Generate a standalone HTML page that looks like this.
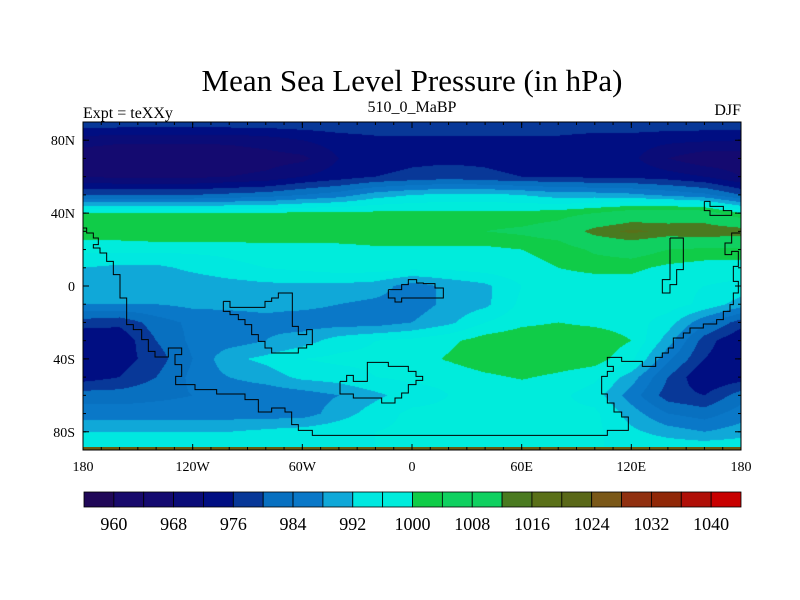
<!DOCTYPE html>
<html><head><meta charset="utf-8">
<style>
body{margin:0;background:#fff;width:800px;height:600px;overflow:hidden;position:relative;font-family:"Liberation Serif",serif;}
#map{position:absolute;left:83px;top:122px;}
svg{position:absolute;left:0;top:0;}
</style></head>
<body>
<canvas id="map" width="658" height="328"></canvas>
<svg id="ov" width="800" height="600">
<text x="412" y="91" font-size="31" text-anchor="middle">Mean Sea Level Pressure (in hPa)</text>
<text x="83" y="118" font-size="16">Expt = teXXy</text>
<text x="412" y="112" font-size="16" text-anchor="middle">510_0_MaBP</text>
<text x="741" y="115" font-size="16" text-anchor="end">DJF</text>
<g id="coast"></g>
<g id="axes"></g>
<g id="cbar"></g>
</svg>
<script>
const lons=[-180,-160,-140,-120,-100,-80,-60,-40,-20,0,20,40,60,80,100,120,140,160,180];
const lats=[90,80,70,60,50,40,30,20,10,0,-10,-20,-30,-40,-50,-60,-70,-80,-90];
const r90N=[979,979,979,979,979,979,979,979,979,979,979,979,979,979,979,979,979,979,979];
const r80N=[970,969,969,969,969,970,972,974,975,975,975,975,975,975,974,974,973,972.5,972];
const r70N=[965,964,964,964,965,966,967,972,974,975,975,975,974,974,974,973,968,965,965];
const r60N=[968,967,967,967,968,969,972,974,976,977,978,977,976,976,975,975,974,972,968];
const r50N=[980,980,980,980,981,982,984,986,990,992,993,993,992,990,990,989,987,985,980];
const r40N=[1000,1000,1000,1000,1000,1000,1001,1001,1001,1001,1001,1001,1001,1002,1004,1007,1008,1007,1000];
const r30N=[1003,1003,1004,1004,1004,1004,1004,1004,1004,1004,1004,1004,1005,1007,1014,1017,1015,1016,1015];
const r20N=[997,997,997,997,997,998,998,998,999,999,999,999,1000,1001,1005,1007,1004,1003,1003];
const r10N=[992,991,991,993,995,996,997,998,998,997,997,998,999,1000,1001,1001,999,998,998];
const r0=[990,989,989,989,990,991,991,991,990,986,989,991,996,998,998,998,997,996,995];
const r10S=[988,988,988,989,989,989,989,988,987,986,989,991,997,998,998,998,998,995,990];
const r20S=[978,977,982,985,986,987,986,986,986,988,991,996,999,1000,999,998,994,985,978];
const r30S=[972,973,980,985,986,988,990,994,996,997,999,1002,1003,1003,1003,1000,990,978,972];
const r40S=[972,974,978,984,991,993,996,997,997,998,1000.5,1003,1004,1003,1002,997,985,976,972];
const r50S=[974,976,980,985,988,990,993,994,996,997,997,999,1000.5,999,997,990,980,972,974];
const r60S=[982,982,983,984,985,985,986,988,991,994,996,997,997,997,994,986,978,976,982];
const r70S=[986,986,986,986,986,986,986,990,994,997,997,997,997,997,997,990,984,982,986];
const r80S=[992,992,992,992,992,993,994,995,996,997,997,997,997,997,997,993,990,988,990];
const r90S=[996,996,996,996,996,996,996,996,996,996,996,996,996,996,996,996,996,996,996];
const grid=[r90N,r80N,r70N,r60N,r50N,r40N,r30N,r20N,r10N,r0,r10S,r20S,r30S,r40S,r50S,r60S,r70S,r80S,r90S];
const levelLabels=[960,968,976,984,992,1000,1008,1016,1024,1032,1040];
const palette=["#200858","#180a6c","#140a70","#0a0c78","#000e82","#083898","#0870c0","#0a78c8","#10a8d8","#00e8e0","#00ecdc","#10cc48","#10d060","#10d060","#4a7a20","#5a7018","#5a6818","#7a5818","#903010","#902808","#b01008","#c80000"];
const lvlMin=960, lvlStep=4;
const X0=83,X1=741,Y0=122,Y1=450;
const xOf=lon=>X0+(lon+180)/360*(X1-X0);
const yOf=lat=>Y0+(90-lat)/180*(Y1-Y0);
function levelIndex(v){if(v<lvlMin)return 0;return Math.min(palette.length-1,Math.floor((v-lvlMin)/lvlStep)+1);}
function hex(c){return [parseInt(c.slice(1,3),16),parseInt(c.slice(3,5),16),parseInt(c.slice(5,7),16)];}
const cv=document.getElementById('map'),ctx=cv.getContext('2d');
const W=cv.width,H=cv.height,img=ctx.createImageData(W,H);
const rgb=palette.map(hex);
for(let py=0;py<H;py++){
 const lat=90-(py+0.5)/H*180;
 let fi=(90-lat)/10,i=Math.min(lats.length-2,Math.floor(fi)),ty=fi-i;
 for(let px=0;px<W;px++){
  const lon=-180+(px+0.5)/W*360;
  let fj=(lon+180)/20,j=Math.min(lons.length-2,Math.floor(fj)),tx=fj-j;
  const v=(grid[i][j]*(1-tx)+grid[i][j+1]*tx)*(1-ty)+(grid[i+1][j]*(1-tx)+grid[i+1][j+1]*tx)*ty;
  const c=rgb[levelIndex(v)],k=(py*W+px)*4;
  img.data[k]=c[0];img.data[k+1]=c[1];img.data[k+2]=c[2];img.data[k+3]=255;
 }
}
ctx.putImageData(img,0,0);
const NS='http://www.w3.org/2000/svg';
function mk(tag,attrs,parent){const e=document.createElementNS(NS,tag);for(const k in attrs)e.setAttribute(k,attrs[k]);parent.appendChild(e);return e;}
const P=(x,y)=>x>=10000?[410+(x-10000)/3,118+y/3]:[80+x/3,118+y/3];
const coastLines=[
[[10,330],[20,330],[20,345],[40,345],[40,360],[55,360],[55,380],[40,380],[40,390],[60,390],[60,405],[80,405],[80,430],[100,430],[100,470],[120,470],[120,540],[140,540],[140,620],[160,620],[160,635],[185,635],[185,665],[205,665],[205,700],[225,700],[225,717],[265,717],[265,690],[305,690],[305,710],[285,710],[285,740],[305,740],[305,775],[287,775],[287,800],[345,800],[345,815],[410,815],[410,828],[495,828],[495,845],[535,845],[535,882],[575,882],[575,870],[615,870],[615,882],[635,882],[635,920],[655,920],[655,937],[697,937],[697,952],[10592,952],[10592,937],[10655,937],[10655,897],[10635,897],[10635,882],[10612,882],[10612,855],[10592,855],[10592,828],[10575,828],[10575,775],[10592,775],[10592,760],[10610,760],[10610,745],[10592,745],[10592,718],[10635,718],[10635,730],[10697,730],[10697,745],[10737,745],[10737,718],[10757,718],[10757,705],[10775,705],[10775,690],[10790,690],[10790,660],[10820,660],[10820,645],[10840,645],[10840,630],[10880,630],[10880,618],[10920,618],[10920,605],[10940,605],[10940,580],[10960,580],[10960,560],[10970,560],[10970,525],[10985,525],[10985,490],[10970,490],[10970,445],[10985,445],[10985,400],[10965,400],[10965,410],[10945,410],[10945,375],[10965,375],[10965,345],[10990,345]],
[[10883,250],[10900,250],[10900,265],[10940,265],[10940,278],[10965,278],[10965,292],[10900,292],[10900,278],[10883,278],[10883,250]],
[[10780,360],[10820,360],[10820,455],[10800,455],[10800,500],[10780,500],[10780,525],[10757,525],[10757,485],[10780,485],[10780,360]],
[[430,550],[450,550],[450,568],[555,568],[555,550],[575,550],[575,540],[595,540],[595,525],[637,525],[637,625],[655,625],[655,650],[680,650],[680,635],[697,635],[697,680],[680,680],[680,690],[655,690],[655,705],[575,705],[575,690],[555,690],[555,670],[535,670],[535,650],[515,650],[515,620],[495,620],[495,605],[475,605],[475,590],[450,590],[450,580],[430,580],[430,550]],
[[925,515],[965,515],[965,500],[985,500],[985,485],[10020,485],[10020,495],[10040,495],[10040,497],[10075,497],[10075,510],[10100,510],[10100,540],[10075,540],[10020,540],[985,540],[965,540],[965,552],[945,552],[945,540],[925,540],[925,515]],
[[780,790],[800,790],[800,772],[820,772],[820,790],[862,790],[862,733],[925,733],[925,745],[985,745],[985,760],[1005,760],[10018,760],[10018,775],[10038,775],[10038,787],[10018,787],[10018,800],[1005,800],[985,800],[985,825],[965,825],[965,840],[945,840],[945,855],[905,855],[905,840],[820,840],[820,828],[780,828],[780,790]]
];
const cg=document.getElementById('coast');
coastLines.forEach(l=>{const pl=mk('polyline',{points:l.map(p=>P(p[0],p[1]).join(',')).join(' '),fill:'none',stroke:'#000','stroke-width':1},cg);

});
const bs=mk('rect',{x:X0,y:Y1-3,width:X1-X0,height:3,fill:'#6a5a10'},cg);


const ag=document.getElementById('axes');
const fr=mk('rect',{x:X0,y:Y0,width:X1-X0,height:Y1-Y0,fill:'none',stroke:'#000','stroke-width':1},ag);


const xTicks=[-180,-120,-60,0,60,120,180];
const xTickLabels=['180','120W','60W','0','60E','120E','180'];
const yTicks=[80,40,0,-40,-80];
const yTickLabels=['80N','40N','0','40S','80S'];
for(let lon=-170;lon<180;lon+=10){const x=xOf(lon);
 mk('line',{x1:x,y1:Y0,x2:x,y2:Y0+3,stroke:'#000'},ag);mk('line',{x1:x,y1:Y1,x2:x,y2:Y1-3,stroke:'#000'},ag);}
for(let lat=-80;lat<90;lat+=10){const y=yOf(lat);
 mk('line',{x1:X0,y1:y,x2:X0+3,y2:y,stroke:'#000'},ag);mk('line',{x1:X1,y1:y,x2:X1-3,y2:y,stroke:'#000'},ag);}
xTicks.forEach((t,i)=>{const x=xOf(t);
 mk('line',{x1:x,y1:Y0,x2:x,y2:Y0+6,stroke:'#000'},ag);mk('line',{x1:x,y1:Y1,x2:x,y2:Y1-6,stroke:'#000'},ag);
 const tx=mk('text',{x:x,y:471,'font-size':14,'text-anchor':'middle'},ag);tx.textContent=xTickLabels[i];
 
 });
yTicks.forEach((t,i)=>{const y=yOf(t);
 mk('line',{x1:X0,y1:y,x2:X0+6,y2:y,stroke:'#000'},ag);mk('line',{x1:X1,y1:y,x2:X1-6,y2:y,stroke:'#000'},ag);
 const tx=mk('text',{x:X0-8,y:y+5,'font-size':14,'text-anchor':'end'},ag);tx.textContent=yTickLabels[i];
 
 });
const cb=document.getElementById('cbar');
const CB0=84,CB1=741,CBy=492,CBh=15,bw=(CB1-CB0)/palette.length;
palette.forEach((c,i)=>{const r=mk('rect',{x:CB0+i*bw,y:CBy,width:bw,height:CBh,fill:c,stroke:'#000','stroke-width':0.8},cb);
 
 });
levelLabels.forEach(v=>{const i=(v-lvlMin)/lvlStep+1;const t=mk('text',{x:CB0+i*bw,y:530,'font-size':18,'text-anchor':'middle'},cb);t.textContent=v;
 
 });
</script>
</body></html>
